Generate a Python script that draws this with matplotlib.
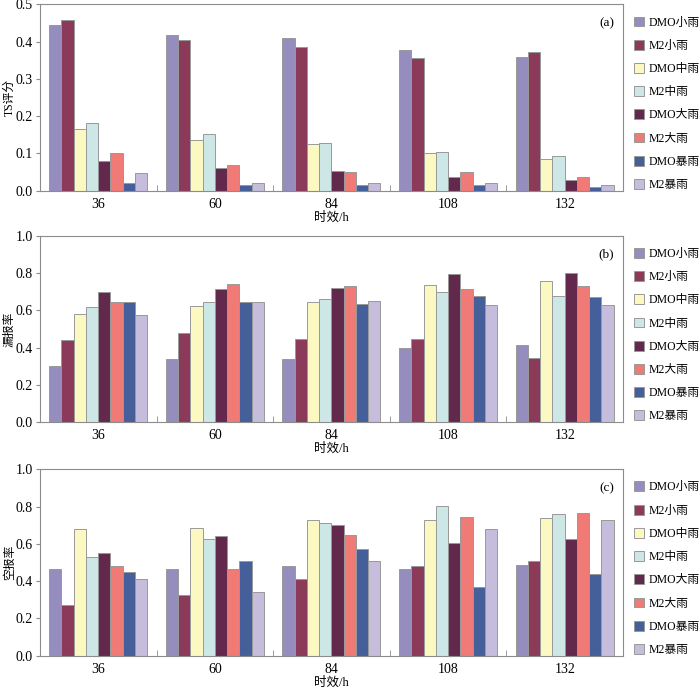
import matplotlib
matplotlib.use('Agg')
import matplotlib.pyplot as plt
import numpy as np

plt.rcParams['font.family'] = ['Liberation Serif', 'Noto Sans CJK SC']
plt.rcParams['font.size'] = 9

# 数据
lead_times = ['36', '60', '84', '108', '132']
series_names = ['DMO小雨', 'M2小雨', 'DMO中雨', 'M2中雨', 'DMO大雨', 'M2大雨', 'DMO暴雨', 'M2暴雨']
colors = ['#968dbf', '#8b3a5a', '#fbf8c2', '#cde7e7', '#62294c', '#f07a76', '#455f9b', '#c6bcdb']

# TS评分 (a)
ts_dmo_light = [0.445, 0.418, 0.410, 0.378, 0.360]
ts_m2_light = [0.458, 0.403, 0.385, 0.356, 0.371]
ts_dmo_mod = [0.165, 0.136, 0.126, 0.100, 0.086]
ts_m2_mod = [0.181, 0.153, 0.128, 0.104, 0.094]
ts_dmo_heavy = [0.079, 0.061, 0.054, 0.036, 0.028]
ts_m2_heavy = [0.100, 0.068, 0.050, 0.050, 0.036]
ts_dmo_storm = [0.021, 0.015, 0.014, 0.014, 0.011]
ts_m2_storm = [0.047, 0.022, 0.022, 0.022, 0.015]

# 漏报率 (b)
mr_dmo_light = [0.302, 0.339, 0.339, 0.398, 0.414]
mr_m2_light = [0.441, 0.479, 0.448, 0.448, 0.346]
mr_dmo_mod = [0.580, 0.625, 0.646, 0.736, 0.757]
mr_m2_mod = [0.618, 0.646, 0.662, 0.698, 0.677]
mr_dmo_heavy = [0.698, 0.712, 0.721, 0.793, 0.802]
mr_m2_heavy = [0.646, 0.741, 0.729, 0.714, 0.729]
mr_dmo_storm = [0.646, 0.646, 0.632, 0.677, 0.670]
mr_m2_storm = [0.575, 0.646, 0.648, 0.627, 0.627]

# 空报率 (c)
fa_dmo_light = [0.465, 0.465, 0.479, 0.465, 0.487]
fa_m2_light = [0.272, 0.324, 0.413, 0.479, 0.508]
fa_dmo_mod = [0.678, 0.685, 0.730, 0.728, 0.737]
fa_m2_mod = [0.531, 0.626, 0.714, 0.803, 0.759]
fa_dmo_heavy = [0.553, 0.642, 0.699, 0.603, 0.624]
fa_m2_heavy = [0.479, 0.465, 0.648, 0.744, 0.766]
fa_dmo_storm = [0.449, 0.508, 0.574, 0.369, 0.436]
fa_m2_storm = [0.413, 0.340, 0.508, 0.678, 0.728]

panels = [
    ([ts_dmo_light, ts_m2_light, ts_dmo_mod, ts_m2_mod, ts_dmo_heavy, ts_m2_heavy, ts_dmo_storm, ts_m2_storm],
     'TS评分', '(a)', 0.5, 0.1, [0.7224, 0.2713]),
    ([mr_dmo_light, mr_m2_light, mr_dmo_mod, mr_m2_mod, mr_dmo_heavy, mr_m2_heavy, mr_dmo_storm, mr_m2_storm],
     '漏报率', '(b)', 1.0, 0.2, [0.3853, 0.2716]),
    ([fa_dmo_light, fa_m2_light, fa_dmo_mod, fa_m2_mod, fa_dmo_heavy, fa_m2_heavy, fa_dmo_storm, fa_m2_storm],
     '空报率', '(c)', 1.0, 0.2, [0.0455, 0.2714]),
]

fig = plt.figure(figsize=(7, 6.87), dpi=100)
x = np.arange(len(lead_times))
width = 0.105
spine_c = '#8c8c8c'

for data, ylabel, tag, ymax, ystep, (bottom, height) in panels:
    ax = fig.add_axes([0.057, bottom, 0.833, height])
    for i, vals in enumerate(data):
        ax.bar(x + (i - 3.5) * width, vals, width, color=colors[i],
               edgecolor='#999999', linewidth=0.7, label=series_names[i])
    ax.set_xlim(-0.5, len(lead_times) - 0.5)
    ax.set_ylim(0, ymax)
    yt = np.arange(0, ymax + 1e-9, ystep)
    ax.set_yticks(yt)
    ax.set_yticklabels([f'{v:.1f}' for v in yt])
    ax.set_xticks(x)
    ax.set_xticklabels(lead_times)
    ax.tick_params(axis='both', labelsize=10)
    ax.tick_params(axis='x', length=0, pad=5)
    ax.set_xticks(np.arange(0.5, len(lead_times) - 0.5), minor=True)
    ax.tick_params(axis='x', which='minor', direction='in', length=4, color=spine_c)
    ax.tick_params(axis='y', direction='out', length=3, color=spine_c, pad=2)
    for s in ax.spines.values():
        s.set_color(spine_c)
        s.set_linewidth(0.8)
    ax.set_ylabel(ylabel, fontsize=8.5, va='center')
    ax.yaxis.set_label_coords(-0.052, 0.5)
    ax.set_xlabel('时效/h', fontsize=9)
    ax.xaxis.set_label_coords(0.5, -0.11)
    ax.text(0.985, 0.9, tag, transform=ax.transAxes, ha='right', va='center', fontsize=9.5)
    ax.legend(loc='upper left', bbox_to_anchor=(1.01, 0.96), frameon=False,
              handlelength=0.9, handleheight=0.9, handletextpad=0.4,
              labelspacing=0.95, borderaxespad=0, fontsize=8.5)

fig.savefig('out.png', dpi=100)
